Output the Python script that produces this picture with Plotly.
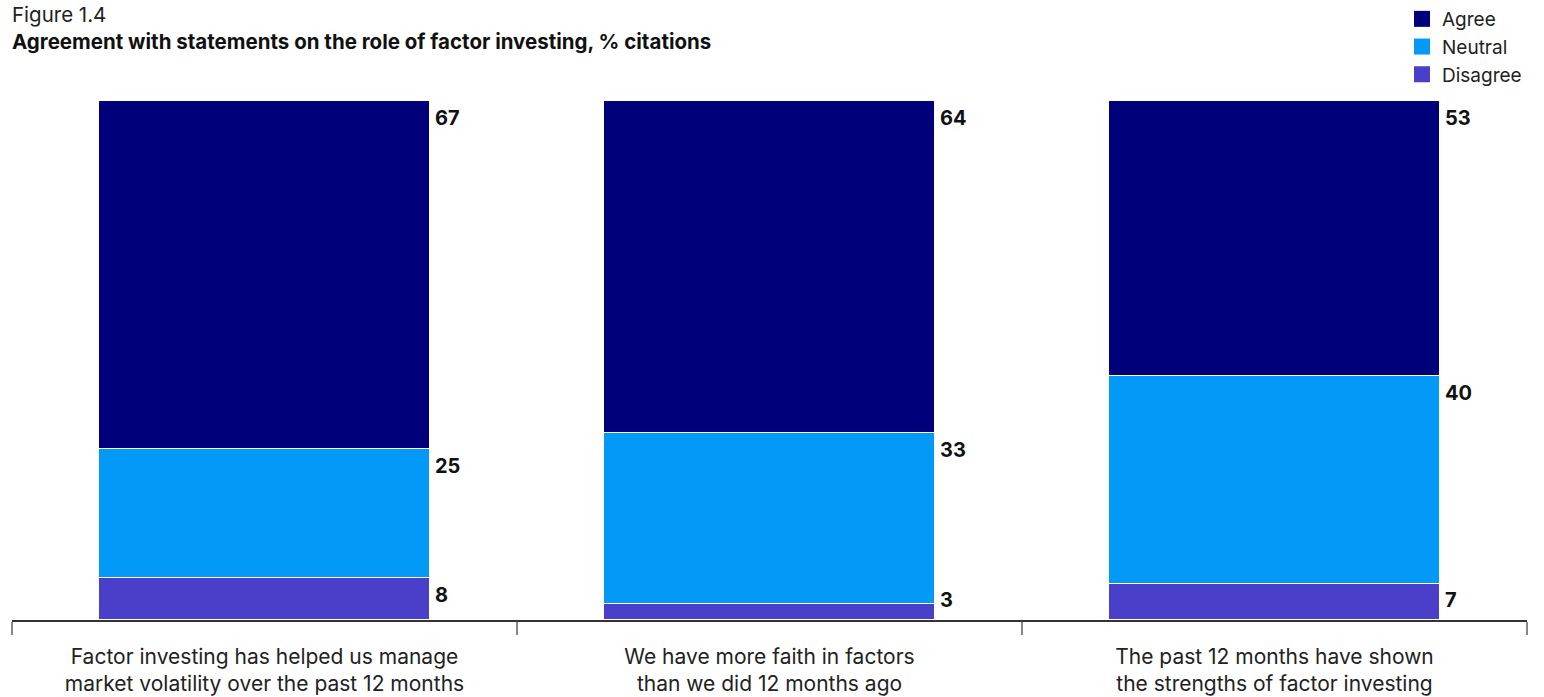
import plotly.graph_objects as go

categories = [
    "Factor investing has helped us manage<br>market volatility over the past 12 months",
    "We have more faith in factors<br>than we did 12 months ago",
    "The past 12 months have shown<br>the strengths of factor investing",
]
disagree = [8, 3, 7]
neutral = [25, 33, 40]
agree = [67, 64, 53]
legend_order = ["Agree", "Neutral", "Disagree"]

colors = {"Agree": "#00007A", "Neutral": "#0399F7", "Disagree": "#4A3FC9"}
FONT = "Inter"

W, H = 1544, 697
M = dict(l=12, r=17, t=101, b=77)
px_per_unit = (H - M["t"] - M["b"]) / 100.0

xs = list(range(len(categories)))
bar_w = 0.655

fig = go.Figure()
series = [("Disagree", disagree), ("Neutral", neutral), ("Agree", agree)]
for name, vals in series:
    fig.add_trace(go.Bar(
        x=xs, y=vals, name=name, width=bar_w, showlegend=False,
        marker=dict(color=colors[name], line=dict(color="white", width=1)),
        hoverinfo="y+name",
    ))

# legend entries (square swatches)
for name in legend_order:
    fig.add_trace(go.Scatter(
        x=[None], y=[None], mode="markers", name=name,
        marker=dict(symbol="square", size=16, color=colors[name], line=dict(width=0)),
    ))

# value labels at top of each segment, right of bar
base = [0] * len(categories)
for name, vals in series:
    for i, v in enumerate(vals):
        top = base[i] + v
        px_top = top * px_per_unit
        yshift = -17 if px_top - 17 >= 20 else 20 - px_top
        fig.add_annotation(
            x=i + bar_w / 2, y=top, xref="x", yref="y",
            text=f"<b>{v}</b>", showarrow=False,
            xanchor="left", yanchor="middle", xshift=3, yshift=yshift,
            font=dict(family=FONT, size=20, color="#111111"),
        )
        base[i] = top

fig.add_annotation(
    x=0, y=1, xref="paper", yref="paper", xanchor="left", yanchor="top",
    yshift=101, xshift=-2, text="Figure 1.4", showarrow=False,
    font=dict(family=FONT, size=20.5, color="#222222"),
)
fig.add_annotation(
    x=0, y=1, xref="paper", yref="paper", xanchor="left", yanchor="top",
    yshift=74, xshift=-2,
    text="<b>Agreement with statements on the role of factor investing, % citations</b>",
    showarrow=False, font=dict(family=FONT, size=20.5, color="#111111"),
)

fig.update_layout(
    width=W, height=H,
    barmode="stack", bargap=0,
    paper_bgcolor="white", plot_bgcolor="white",
    margin=dict(**M, autoexpand=False),
    font=dict(family=FONT, size=20, color="#222222"),
    legend=dict(
        orientation="v", traceorder="normal", itemsizing="trace",
        x=(W - M["r"]) / W, xanchor="right", xref="container",
        y=1, yanchor="top", yref="container",
        font=dict(family=FONT, size=19, color="#222222"),
        itemwidth=30, tracegroupgap=0, bgcolor="rgba(0,0,0,0)",
    ),
    xaxis=dict(
        tickmode="array", tickvals=xs, ticktext=categories,
        range=[-0.5, 2.5], showgrid=False, zeroline=False,
        showline=True, linecolor="#333333", linewidth=1.5,
        ticks="", ticklabelstandoff=17, automargin=False,
        tickfont=dict(family=FONT, size=21, color="#222222"),
    ),
    yaxis=dict(range=[0, 100], visible=False, fixedrange=True, automargin=False),
)

# boundary ticks as x-axis minor ticks
fig.update_xaxes(
    minor=dict(tickmode="array", tickvals=[-0.5, 0.5, 1.5, 2.5],
               ticks="outside", ticklen=13, tickcolor="#888888", tickwidth=1.5),
)

fig.write_html("out.html", config={"displayModeBar": False},
               post_script="document.body.style.margin='0';")
